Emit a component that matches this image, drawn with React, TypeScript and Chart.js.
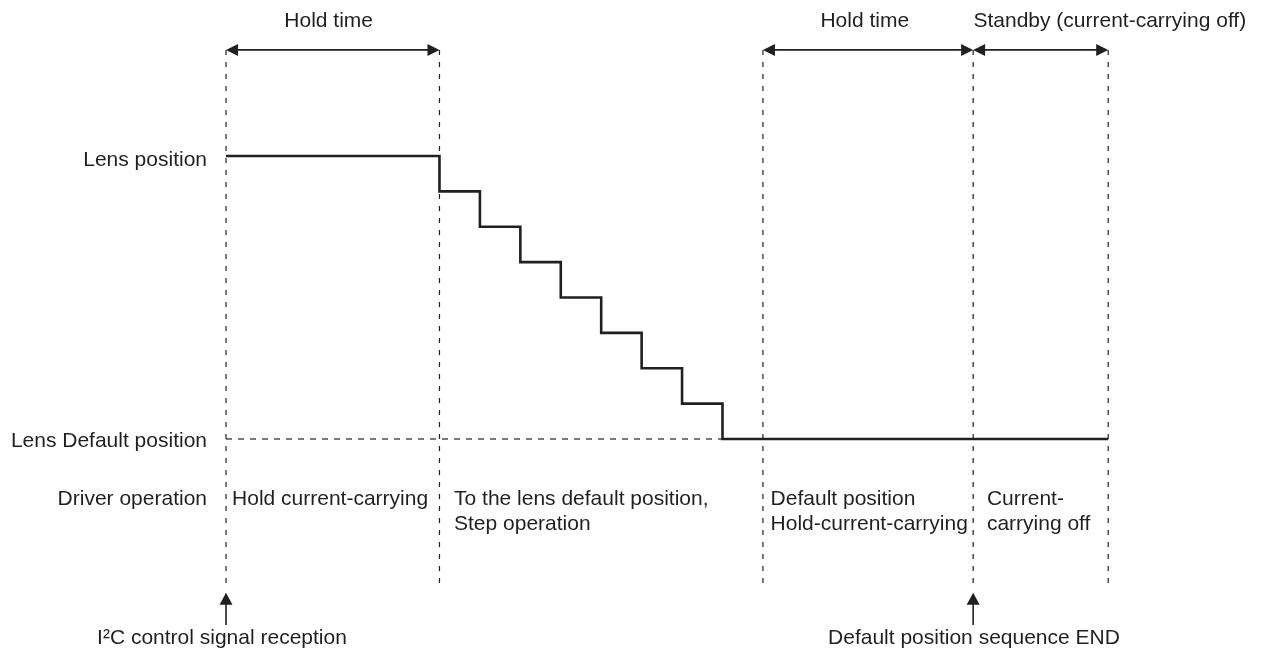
import React, { useEffect, useRef } from "react";
import { Chart, registerables } from "chart.js";

Chart.register(...registerables);

// Time axis in step periods, level axis in lens steps above the default position
const stepTimes = [0, 5.28, 6.28, 7.28, 8.28, 9.28, 10.28, 11.28, 12.28, 21.82];
const lensLevels = [8, 7, 6, 5, 4, 3, 2, 1, 0, 0];
const defaultLineTimes = [0, 12.28];
const defaultLineLevels = [0, 0];
const markerTimes = [0, 5.28, 13.28, 18.48, 21.82];
const spanStarts = [0, 13.28, 18.48];
const spanEnds = [5.28, 18.48, 21.82];
const spanLabels = ["Hold time", "Hold time", "Standby (current-carrying off)"];
const spanLabelTimes = [2.54, 15.8, 21.86];
const eventTimes = [0, 18.48];
const eventLabels = ["I\u00B2C control signal reception", "Default position sequence END"];
const eventLabelTimes = [-0.1, 18.5];
const rowLabels = ["Lens position", "Lens Default position", "Driver operation"];
const rowLevels = [7.93, 0, -1.64];
const phaseLines1 = ["Hold current-carrying", "To the lens default position,", "Default position", "Current-"];
const phaseLines2 = ["", "Step operation", "Hold-current-carrying", "carrying off"];
const phaseTimes = [0.15, 5.64, 13.47, 18.82];

// layout levels (in level units)
const SPAN_LEVEL = 11;
const MARKER_BOTTOM = -4.07;
const TOP_TEXT_LEVEL = 11.86;
const ROW1_LEVEL = -1.64;
const ROW2_LEVEL = -2.35;
const EVENT_TIP = -4.35;
const EVENT_TAIL = -5.26;
const EVENT_TEXT_LEVEL = -5.58;
const ROW_LABEL_TIME = -0.47;

const INK = "#231f20";
const FONT = '21px "Liberation Sans", Arial, Helvetica, sans-serif';

function head(ctx: CanvasRenderingContext2D, tx: number, ty: number, dx: number, dy: number, len: number, half: number) {
  const bx = tx - dx * len;
  const by = ty - dy * len;
  const px = -dy;
  const py = dx;
  ctx.beginPath();
  ctx.moveTo(tx, ty);
  ctx.lineTo(bx + px * half, by + py * half);
  ctx.lineTo(bx - px * half, by - py * half);
  ctx.closePath();
  ctx.fill();
}

const annotations = {
  id: "annotations",
  afterDraw(chart: any) {
    const ctx: CanvasRenderingContext2D = chart.ctx;
    const xs = chart.scales.x;
    const ys = chart.scales.y;
    const X = (v: number) => xs.getPixelForValue(v);
    const Y = (v: number) => ys.getPixelForValue(v);
    ctx.save();
    ctx.fillStyle = INK;
    ctx.strokeStyle = INK;
    // span arrows
    const L = 12;
    const H = 6;
    spanStarts.forEach((s, i) => {
      const x1 = X(s);
      const x2 = X(spanEnds[i]);
      const y = Y(SPAN_LEVEL);
      ctx.lineWidth = 1.6;
      ctx.beginPath();
      ctx.moveTo(x1 + L - 1, y);
      ctx.lineTo(x2 - L + 1, y);
      ctx.stroke();
      head(ctx, x1, y, -1, 0, L, H);
      head(ctx, x2, y, 1, 0, L, H);
    });
    // event arrows
    eventTimes.forEach((t) => {
      const x = X(t);
      const yt = Y(EVENT_TIP);
      const yb = Y(EVENT_TAIL);
      ctx.lineWidth = 1.6;
      ctx.beginPath();
      ctx.moveTo(x, yb);
      ctx.lineTo(x, yt + L - 1);
      ctx.stroke();
      head(ctx, x, yt, 0, -1, L, 6.5);
    });
    // texts
    ctx.font = FONT;
    ctx.textBaseline = "alphabetic";
    const cap = 7.6;
    ctx.textAlign = "center";
    spanLabels.forEach((s, i) => ctx.fillText(s, X(spanLabelTimes[i]), Y(TOP_TEXT_LEVEL) + cap));
    eventLabels.forEach((s, i) => ctx.fillText(s, X(eventLabelTimes[i]), Y(EVENT_TEXT_LEVEL) + cap));
    ctx.textAlign = "right";
    rowLabels.forEach((s, i) => ctx.fillText(s, X(ROW_LABEL_TIME), Y(rowLevels[i]) + cap));
    ctx.textAlign = "left";
    phaseTimes.forEach((t, i) => {
      ctx.fillText(phaseLines1[i], X(t), Y(ROW1_LEVEL) + cap);
      if (phaseLines2[i]) ctx.fillText(phaseLines2[i], X(t), Y(ROW2_LEVEL) + cap);
    });
    ctx.restore();
  },
};

export default function App() {
  const ref = useRef<HTMLCanvasElement>(null);
  useEffect(() => {
    document.body.style.margin = "0";
    const datasets: any[] = [
      {
        data: stepTimes.map((t, i) => ({ x: t, y: lensLevels[i] })),
        stepped: "before",
        borderColor: INK,
        borderWidth: 2.6,
        pointRadius: 0,
        showLine: true,
        fill: false,
      },
      {
        data: defaultLineTimes.map((t, i) => ({ x: t, y: defaultLineLevels[i] })),
        borderColor: INK,
        borderWidth: 1.2,
        borderDash: [6, 6],
        pointRadius: 0,
        showLine: true,
        fill: false,
      },
      ...markerTimes.map((t) => ({
        data: [
          { x: t, y: SPAN_LEVEL },
          { x: t, y: MARKER_BOTTOM },
        ],
        borderColor: INK,
        borderWidth: 1.2,
        borderDash: [5, 7],
        pointRadius: 0,
        showLine: true,
        fill: false,
      })),
    ];
    const chart = new Chart(ref.current as HTMLCanvasElement, {
      type: "scatter",
      data: { datasets },
      options: {
        animation: false,
        responsive: false,
        devicePixelRatio: 1,
        layout: { padding: 0 },
        plugins: { legend: { display: false }, tooltip: { enabled: false } },
        scales: {
          x: { type: "linear", min: -5.59, max: 25.649, display: false },
          y: { type: "linear", min: -6.163, max: 12.41, display: false },
        },
      },
      plugins: [annotations],
    } as any);
    return () => chart.destroy();
  }, []);
  return (
    <div style={{ width: 1263, height: 657, background: "#fff" }}>
      <canvas ref={ref} width={1263} height={657} style={{ display: "block" }} />
    </div>
  );
}
